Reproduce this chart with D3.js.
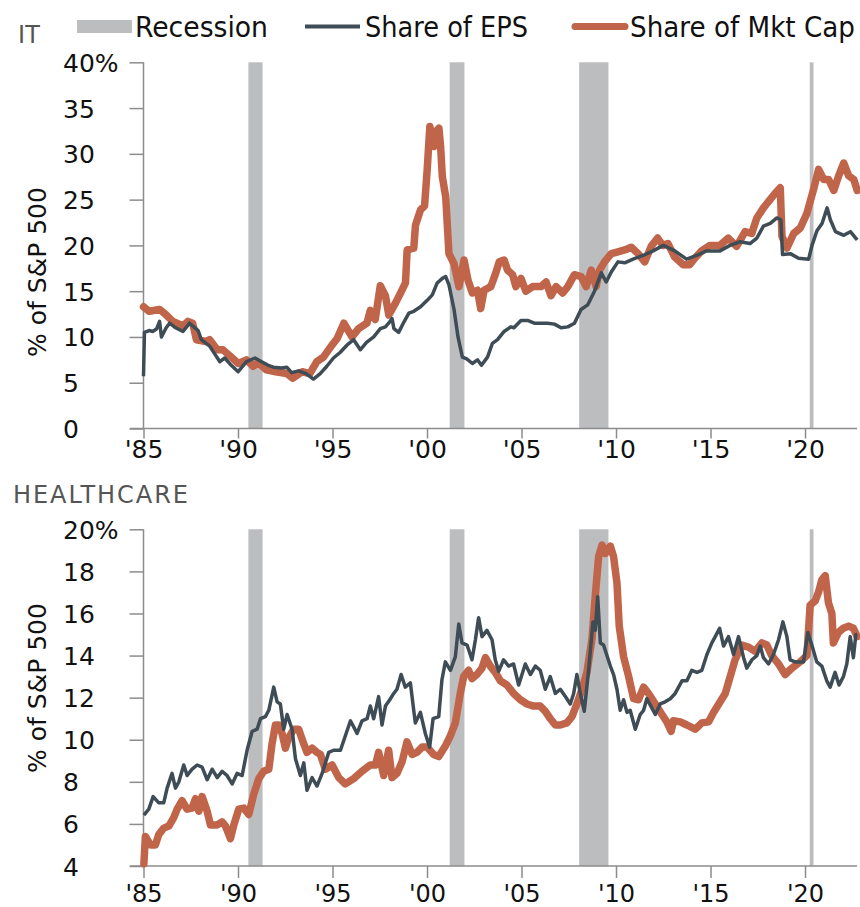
<!DOCTYPE html>
<html>
<head>
<meta charset="utf-8">
<script src="https://cdn.jsdelivr.net/npm/d3@7"></script>
<style>
  body { margin: 0; background: #fff; }
  svg { display: block; }
  .tick text { font-family: "DejaVu Sans", sans-serif; }
</style>
</head>
<body>
<svg id="chart" width="860" height="907"></svg>
<script>
// ---------- data (decimal years, % of S&P 500) ----------
const recessions = [[1990.55, 1991.3], [2001.2, 2001.98], [2008.05, 2009.6], [2020.25, 2020.45]];
const xTickYears = [1985, 1990, 1995, 2000, 2005, 2010, 2015, 2020];
const xTickLabels = ["'85", "'90", "'95", "'00", "'05", "'10", "'15", "'20"];
const itTicks = [0, 5, 10, 15, 20, 25, 30, 35, 40];
const hcTicks = [4, 6, 8, 10, 12, 14, 16, 18, 20];

const itEpsYears = [1985.0, 1985.05, 1985.3, 1985.5, 1985.7, 1985.85, 1985.95, 1986.2, 1986.38, 1986.7,
  1987.09, 1987.44, 1987.6, 1987.89, 1988.06, 1988.5, 1989.04, 1989.3, 1989.6, 1990.01,
  1990.45, 1990.9, 1991.25, 1991.6, 1991.87, 1992.3, 1992.58, 1992.84, 1993.2, 1993.6,
  1993.99, 1994.35, 1994.7, 1995.05, 1995.4, 1995.76, 1996.12, 1996.47, 1996.8, 1997.18,
  1997.53, 1997.8, 1997.97, 1998.15, 1998.25, 1998.5, 1998.77, 1999.04, 1999.3, 1999.66,
  2000.01, 2000.28, 2000.54, 2000.81, 2000.99, 2001.16, 2001.43, 2001.64, 2001.87, 2002.1,
  2002.4, 2002.67, 2002.88, 2003.2, 2003.46, 2003.73, 2004.08, 2004.43, 2004.6, 2004.97,
  2005.32, 2005.68, 2006.03, 2006.38, 2006.74, 2007.09, 2007.45, 2007.8, 2008.15, 2008.5,
  2008.86, 2009.22, 2009.48, 2009.75, 2010.1, 2010.46, 2010.9, 2011.43, 2011.96, 2012.5,
  2013.11, 2013.73, 2014.26, 2014.79, 2015.5, 2016.03, 2016.56, 2017.09, 2017.45, 2017.8,
  2018.16, 2018.51, 2018.72, 2018.81, 2019.22, 2019.66, 2020.19, 2020.37, 2020.63, 2020.9,
  2021.17, 2021.34, 2021.61, 2022.05, 2022.4, 2022.76];
const itEpsValues = [5.7, 10.5, 10.7, 10.6, 10.9, 11.7, 10.0, 11.0, 11.5, 11.0,
  10.6, 11.5, 11.2, 10.7, 9.7, 9.0, 7.3, 7.7, 7.0, 6.2,
  7.3, 7.7, 7.3, 6.9, 6.7, 6.6, 6.7, 6.1, 6.3, 6.0,
  5.4, 6.0, 6.8, 7.7, 8.3, 9.1, 9.7, 8.6, 9.4, 10.0,
  10.9, 11.1, 11.5, 12.0, 10.9, 10.5, 11.6, 12.6, 12.8, 13.3,
  14.0, 14.6, 15.9, 16.4, 16.6, 15.7, 13.0, 10.0, 7.8, 7.6,
  7.1, 7.5, 6.9, 7.8, 9.3, 9.7, 10.6, 11.1, 11.0, 11.8,
  11.8, 11.5, 11.5, 11.5, 11.4, 11.0, 11.1, 11.5, 13.0, 13.5,
  15.0, 17.0, 16.0, 17.1, 18.2, 18.1, 18.5, 18.9, 19.4, 20.0,
  19.4, 18.5, 18.9, 19.4, 19.4, 20.0, 20.4, 20.2, 20.8, 22.1,
  22.4, 23.0, 22.8, 19.0, 19.1, 18.6, 18.5, 20.0, 21.6, 22.4,
  24.1, 22.8, 21.5, 21.1, 21.5, 20.6];

const itCapYears = [1985.0, 1985.3, 1985.85, 1986.2, 1986.55, 1987.09, 1987.35, 1987.6, 1987.8, 1988.3,
  1988.5, 1988.9, 1989.2, 1989.7, 1990.01, 1990.45, 1990.8, 1991.07, 1991.5, 1992.0,
  1992.58, 1992.9, 1993.4, 1993.8, 1994.17, 1994.52, 1994.97, 1995.24, 1995.6, 1996.03,
  1996.38, 1996.82, 1997.0, 1997.26, 1997.53, 1997.8, 1997.98, 1998.33, 1998.6, 1998.86,
  1998.95, 1999.3, 1999.39, 1999.66, 1999.87, 2000.01, 2000.15, 2000.37, 2000.45, 2000.63,
  2000.72, 2000.81, 2000.99, 2001.16, 2001.43, 2001.69, 2001.96, 2002.17, 2002.4, 2002.67,
  2002.84, 2003.02, 2003.38, 2003.64, 2003.82, 2004.08, 2004.26, 2004.53, 2004.7, 2004.97,
  2005.23, 2005.59, 2006.03, 2006.3, 2006.56, 2006.83, 2007.18, 2007.45, 2007.8, 2008.15,
  2008.42, 2008.69, 2008.95, 2009.13, 2009.39, 2009.75, 2010.1, 2010.46, 2010.81, 2011.17,
  2011.52, 2011.86, 2012.2, 2012.48, 2012.75, 2013.11, 2013.55, 2013.9, 2014.17, 2014.53,
  2014.97, 2015.5, 2015.94, 2016.38, 2016.83, 2017.18, 2017.45, 2017.8, 2018.15, 2018.42,
  2018.69, 2018.78, 2019.04, 2019.4, 2019.75, 2020.1, 2020.45, 2020.72, 2020.99, 2021.25,
  2021.52, 2021.78, 2022.05, 2022.31, 2022.58, 2022.76];
const itCapValues = [13.3, 12.8, 13.0, 12.4, 11.7, 11.2, 11.7, 11.5, 9.7, 9.5,
  9.7, 8.6, 8.6, 7.7, 7.1, 7.5, 6.8, 7.2, 6.4, 6.2,
  6.0, 5.5, 6.2, 6.0, 7.3, 7.8, 9.1, 9.8, 11.5, 10.0,
  10.9, 11.5, 12.9, 11.9, 15.6, 14.5, 12.4, 13.7, 14.8, 15.9,
  19.5, 19.7, 22.2, 23.9, 24.3, 28.3, 33.0, 30.8, 32.4, 32.8,
  30.8, 27.5, 25.3, 19.1, 18.0, 15.5, 18.4, 16.2, 14.8, 15.1,
  13.1, 15.1, 15.5, 17.0, 18.2, 18.4, 17.3, 16.8, 15.5, 16.4,
  15.0, 15.5, 15.5, 16.0, 14.5, 15.5, 14.8, 15.5, 16.8, 16.6,
  15.5, 17.3, 15.5, 17.3, 18.2, 19.1, 19.3, 19.5, 19.8, 19.1,
  18.2, 19.9, 20.8, 20.0, 20.2, 18.7, 17.9, 17.9, 18.6, 19.4,
  20.0, 20.0, 20.8, 19.9, 21.5, 21.3, 23.0, 24.1, 25.0, 25.7,
  26.3, 21.0, 19.7, 21.3, 21.9, 23.5, 26.1, 28.3, 27.2, 27.2,
  26.0, 27.6, 29.0, 27.6, 27.2, 26.0];

const hcEpsYears = [1985.02, 1985.28, 1985.51, 1985.81, 1986.07, 1986.25, 1986.51, 1986.69, 1986.87, 1987.13,
  1987.31, 1987.57, 1987.84, 1988.1, 1988.37, 1988.63, 1988.9, 1989.16, 1989.42, 1989.69,
  1989.95, 1990.22, 1990.48, 1990.75, 1991.01, 1991.19, 1991.45, 1991.63, 1991.89, 1992.07,
  1992.24, 1992.42, 1992.6, 1992.86, 1993.04, 1993.3, 1993.48, 1993.65, 1993.92, 1994.18,
  1994.45, 1994.8, 1995.06, 1995.42, 1995.95, 1996.3, 1996.56, 1996.83, 1997.0, 1997.18,
  1997.44, 1997.62, 1997.8, 1998.03, 1998.24, 1998.41, 1998.63, 1998.85, 1999.12, 1999.38,
  1999.65, 1999.91, 2000.14, 2000.32, 2000.62, 2000.79, 2000.97, 2001.24, 2001.5, 2001.68,
  2001.85, 2002.12, 2002.38, 2002.56, 2002.73, 2002.91, 2003.17, 2003.44, 2003.61, 2003.79,
  2004.05, 2004.32, 2004.58, 2004.85, 2005.2, 2005.47, 2005.73, 2005.99, 2006.26, 2006.52,
  2006.79, 2007.05, 2007.32, 2007.58, 2007.76, 2007.93, 2008.11, 2008.32, 2008.55, 2008.78,
  2008.9, 2009.03, 2009.17, 2009.34, 2009.52, 2009.7, 2009.87, 2010.05, 2010.22, 2010.4,
  2010.58, 2010.75, 2011.02, 2011.28, 2011.46, 2011.63, 2011.9, 2012.08, 2012.34, 2012.6,
  2012.87, 2013.13, 2013.49, 2013.75, 2014.01, 2014.28, 2014.54, 2014.81, 2015.07, 2015.25,
  2015.48, 2015.69, 2015.95, 2016.22, 2016.48, 2016.75, 2016.92, 2017.19, 2017.45, 2017.63,
  2017.8, 2018.07, 2018.33, 2018.6, 2018.83, 2019.04, 2019.21, 2019.48, 2019.74, 2019.92,
  2020.15, 2020.36, 2020.62, 2020.89, 2021.15, 2021.33, 2021.59, 2021.8, 2022.03, 2022.21,
  2022.39, 2022.56, 2022.69, 2022.76];
const hcEpsValues = [6.42, 6.7, 7.3, 7.0, 7.0, 7.7, 8.4, 7.7, 8.0, 8.8,
  8.3, 8.6, 8.8, 8.7, 8.1, 8.6, 8.2, 8.5, 8.3, 7.9,
  8.4, 8.3, 9.5, 10.4, 10.5, 11.0, 11.1, 11.4, 12.5, 11.8,
  11.7, 10.5, 11.2, 10.5, 9.1, 8.3, 8.9, 7.6, 8.2, 7.8,
  8.4, 9.4, 9.5, 9.5, 10.9, 10.3, 10.9, 11.0, 11.6, 11.0,
  12.05, 10.7, 11.6, 11.9, 12.2, 12.4, 13.1, 12.5, 12.7, 10.8,
  11.3, 10.3, 9.65, 11.0, 11.1, 12.85, 13.7, 13.3, 13.95, 15.5,
  14.6, 14.5, 13.8, 14.75, 15.8, 14.9, 15.2, 14.75, 13.8, 13.25,
  13.8, 13.5, 13.6, 12.6, 13.6, 13.1, 13.5, 13.3, 12.4, 13.0,
  12.2, 12.4, 12.05, 11.7, 12.2, 13.1, 12.2, 11.35, 13.3, 15.6,
  15.2, 16.8, 14.6, 14.5, 14.0, 13.5, 13.1, 12.4, 11.4, 11.9,
  11.3, 11.4, 10.5, 11.2, 11.4, 11.95, 11.5, 11.2, 11.7, 11.8,
  11.95, 12.2, 12.8, 12.8, 13.3, 13.2, 13.3, 14.05, 14.6, 14.9,
  15.3, 14.45, 14.9, 14.05, 14.9, 13.9, 13.4, 13.8, 14.0, 14.45,
  13.9, 13.6, 14.05, 14.75, 15.6, 14.9, 13.8, 13.7, 13.7, 13.7,
  15.1, 14.5, 13.7, 13.5, 12.8, 12.5, 13.2, 12.6, 13.0, 13.6,
  14.9, 13.9, 15.0, 15.0];

const hcCapYears = [1985.02, 1985.1, 1985.37, 1985.63, 1985.81, 1986.07, 1986.34, 1986.6, 1986.78, 1987.04,
  1987.31, 1987.57, 1987.75, 1987.93, 1988.1, 1988.37, 1988.54, 1988.9, 1989.16, 1989.34,
  1989.6, 1989.78, 1990.04, 1990.3, 1990.57, 1990.83, 1991.1, 1991.36, 1991.63, 1991.8,
  1991.98, 1992.16, 1992.33, 1992.51, 1992.68, 1992.95, 1993.21, 1993.48, 1993.65, 1993.92,
  1994.18, 1994.36, 1994.62, 1994.98, 1995.33, 1995.68, 1996.12, 1996.56, 1997.0, 1997.27,
  1997.44, 1997.71, 1997.97, 1998.15, 1998.41, 1998.68, 1998.94, 1999.21, 1999.47, 1999.74,
  2000.0, 2000.35, 2000.62, 2000.97, 2001.24, 2001.5, 2001.76, 2001.94, 2002.2, 2002.38,
  2002.64, 2002.91, 2003.09, 2003.35, 2003.61, 2003.88, 2004.23, 2004.58, 2004.94, 2005.29,
  2005.64, 2005.99, 2006.26, 2006.52, 2006.79, 2007.05, 2007.4, 2007.67, 2007.93, 2008.2,
  2008.46, 2008.73, 2008.9, 2009.08, 2009.26, 2009.43, 2009.7, 2009.87, 2010.05, 2010.17,
  2010.4, 2010.67, 2010.93, 2011.19, 2011.46, 2011.72, 2012.08, 2012.43, 2012.69, 2012.92,
  2013.04, 2013.4, 2013.75, 2014.19, 2014.54, 2014.9, 2015.16, 2015.51, 2015.78, 2016.04,
  2016.3, 2016.66, 2017.01, 2017.36, 2017.72, 2017.98, 2018.24, 2018.6, 2018.95, 2019.3,
  2019.74, 2020.1, 2020.27, 2020.54, 2020.71, 2020.89, 2021.07, 2021.24, 2021.42, 2021.5,
  2021.77, 2022.03, 2022.3, 2022.56, 2022.76];
const hcCapValues = [4.1, 5.4, 5.0, 5.0, 5.5, 5.8, 5.9, 6.3, 6.7, 7.1,
  6.7, 6.75, 7.2, 6.6, 7.3, 6.6, 5.95, 5.95, 6.1, 5.9,
  5.3, 5.95, 6.7, 6.75, 6.45, 7.4, 8.15, 8.5, 8.6, 9.8,
  10.7, 10.7, 10.3, 9.6, 10.1, 10.5, 10.5, 9.8, 9.4, 9.6,
  9.4, 9.3, 8.6, 8.8, 8.2, 7.9, 8.15, 8.5, 8.8, 8.8,
  9.4, 8.3, 9.5, 8.2, 8.4, 8.95, 9.9, 9.3, 9.4, 9.65,
  9.65, 9.3, 9.2, 9.7, 10.2, 10.8, 12.2, 13.0, 13.3, 12.9,
  13.1, 13.4, 13.9, 13.5, 13.2, 12.8, 12.6, 12.2, 11.9, 11.7,
  11.6, 11.6, 11.35, 11.0, 10.7, 10.7, 10.8, 11.1, 11.7, 12.4,
  13.2, 14.8, 16.8, 18.7, 19.25, 18.85, 19.2, 18.7, 17.45, 15.4,
  13.95, 13.0, 11.95, 11.9, 12.5, 12.2, 11.7, 11.2, 10.85, 10.4,
  10.9, 10.85, 10.7, 10.5, 10.8, 10.85, 11.3, 11.8, 12.2, 13.0,
  13.8, 14.5, 14.4, 14.2, 14.6, 14.5, 14.0, 13.6, 13.1, 13.4,
  13.7, 14.0, 16.4, 16.6, 17.0, 17.6, 17.8, 16.5, 16.0, 14.6,
  15.1, 15.3, 15.4, 15.3, 14.9];

// ---------- styles ----------
const capColor = "#c0644a";
const epsColor = "#3e4c56";
const recessionColor = "#bcbdbf";
const axisColor = "#8c8c8c";

const svg = d3.select("#chart");

function zip(xs, ys) {
  return xs.map((x, i) => ({ t: x, v: ys[i] }));
}

function addPanel(cfg) {
  const { top, bottom, yDomain, ticks, title, titleY, labelY, tickLabelY, tickSize } = cfg;
  const x = d3.scaleLinear().domain([1985, 2022.75]).range([143.5, 857]);
  const y = d3.scaleLinear().domain(yDomain).range([bottom, top]);
  const g = svg.append("g");

  // recession bars
  g.selectAll(".rec")
    .data(recessions)
    .enter()
    .append("rect")
    .attr("x", (d) => x(d[0]))
    .attr("width", (d) => x(d[1]) - x(d[0]))
    .attr("y", top)
    .attr("height", bottom - top)
    .attr("fill", recessionColor);

  // y axis
  const yAxis = g.append("g")
    .attr("transform", `translate(${x(1985)},0)`)
    .call(d3.axisLeft(y).tickValues(ticks).tickSize(14).tickPadding(0)
      .tickFormat((d, i) => (i === ticks.length - 1 ? d + "%" : d)));
  yAxis.select(".domain").attr("d", `M0,${top}V${bottom}`);
  yAxis.selectAll("path, line").attr("stroke", axisColor).attr("stroke-width", 1.5);
  yAxis.selectAll("text")
    .attr("text-anchor", "start")
    .attr("x", 63 - x(1985))
    .attr("dy", "0.36em")
    .attr("fill", "#111")
    .style("font-size", "25px");

  // x axis
  const xAxis = g.append("g")
    .attr("transform", `translate(0,${bottom})`)
    .call(d3.axisBottom(x).tickValues(xTickYears).tickSize(tickSize)
      .tickFormat((d, i) => xTickLabels[i]));
  xAxis.select(".domain").attr("d", "M130,0H857");
  xAxis.selectAll("path, line").attr("stroke", axisColor).attr("stroke-width", 1.5);
  xAxis.selectAll("text")
    .attr("y", tickLabelY)
    .attr("dy", "0.36em")
    .attr("fill", "#111")
    .style("font-size", cfg.tickFont);

  // lines
  const line = d3.line().x((d) => x(d.t)).y((d) => y(d.v));
  g.append("path")
    .datum(zip(cfg.capYears, cfg.capValues))
    .attr("d", line)
    .attr("fill", "none")
    .attr("stroke", capColor)
    .attr("stroke-width", 7.5)
    .attr("stroke-linejoin", "round")
    .attr("stroke-linecap", "round");
  g.append("path")
    .datum(zip(cfg.epsYears, cfg.epsValues))
    .attr("d", line)
    .attr("fill", "none")
    .attr("stroke", epsColor)
    .attr("stroke-width", 3.5)
    .attr("stroke-linejoin", "round");

  // panel title and y label
  svg.append("text")
    .attr("x", cfg.titleX)
    .attr("y", titleY)
    .attr("fill", "#555")
    .style("font-family", "'DejaVu Sans', sans-serif")
    .style("font-size", "24px")
    .attr("textLength", cfg.titleLen)
    .attr("lengthAdjust", "spacing")
    .text(title);

  svg.append("text")
    .attr("transform", `translate(46,${labelY}) rotate(-90)`)
    .attr("text-anchor", "middle")
    .attr("fill", "#111")
    .style("font-family", "'DejaVu Sans', sans-serif")
    .style("font-size", "25px")
    .text("% of S&P 500");
}

addPanel({
  top: 62.3, bottom: 428.5, yDomain: [0, 40], ticks: itTicks,
  title: "IT", titleX: 18, titleY: 43, titleLen: 22,
  labelY: 272, tickLabelY: 20, tickSize: 10, tickFont: "25px",
  epsYears: itEpsYears, epsValues: itEpsValues,
  capYears: itCapYears, capValues: itCapValues
});
addPanel({
  top: 529.3, bottom: 866, yDomain: [4, 20], ticks: hcTicks,
  title: "HEALTHCARE", titleX: 13, titleY: 503, titleLen: 175,
  labelY: 688, tickLabelY: 27, tickSize: 12, tickFont: "24px",
  epsYears: hcEpsYears, epsValues: hcEpsValues,
  capYears: hcCapYears, capValues: hcCapValues
});

// ---------- legend ----------
const legend = svg.append("g")
  .style("font-family", "'Liberation Sans Narrow', 'DejaVu Sans Condensed', sans-serif")
  .style("font-size", "29px")
  .attr("fill", "#111");
legend.append("rect").attr("x", 77).attr("y", 20).attr("width", 55).attr("height", 13).attr("fill", recessionColor);
legend.append("text").attr("x", 135).attr("y", 37).attr("textLength", 133).attr("lengthAdjust", "spacingAndGlyphs").text("Recession");
legend.append("line").attr("x1", 305).attr("x2", 360).attr("y1", 26.5).attr("y2", 26.5)
  .attr("stroke", epsColor).attr("stroke-width", 4);
legend.append("text").attr("x", 365).attr("y", 37).attr("textLength", 163).attr("lengthAdjust", "spacingAndGlyphs").text("Share of EPS");
legend.append("line").attr("x1", 575).attr("x2", 625).attr("y1", 26.5).attr("y2", 26.5)
  .attr("stroke", capColor).attr("stroke-width", 7).attr("stroke-linecap", "round");
legend.append("text").attr("x", 630).attr("y", 37).attr("textLength", 225).attr("lengthAdjust", "spacingAndGlyphs").text("Share of Mkt Cap");
</script>
</body>
</html>
